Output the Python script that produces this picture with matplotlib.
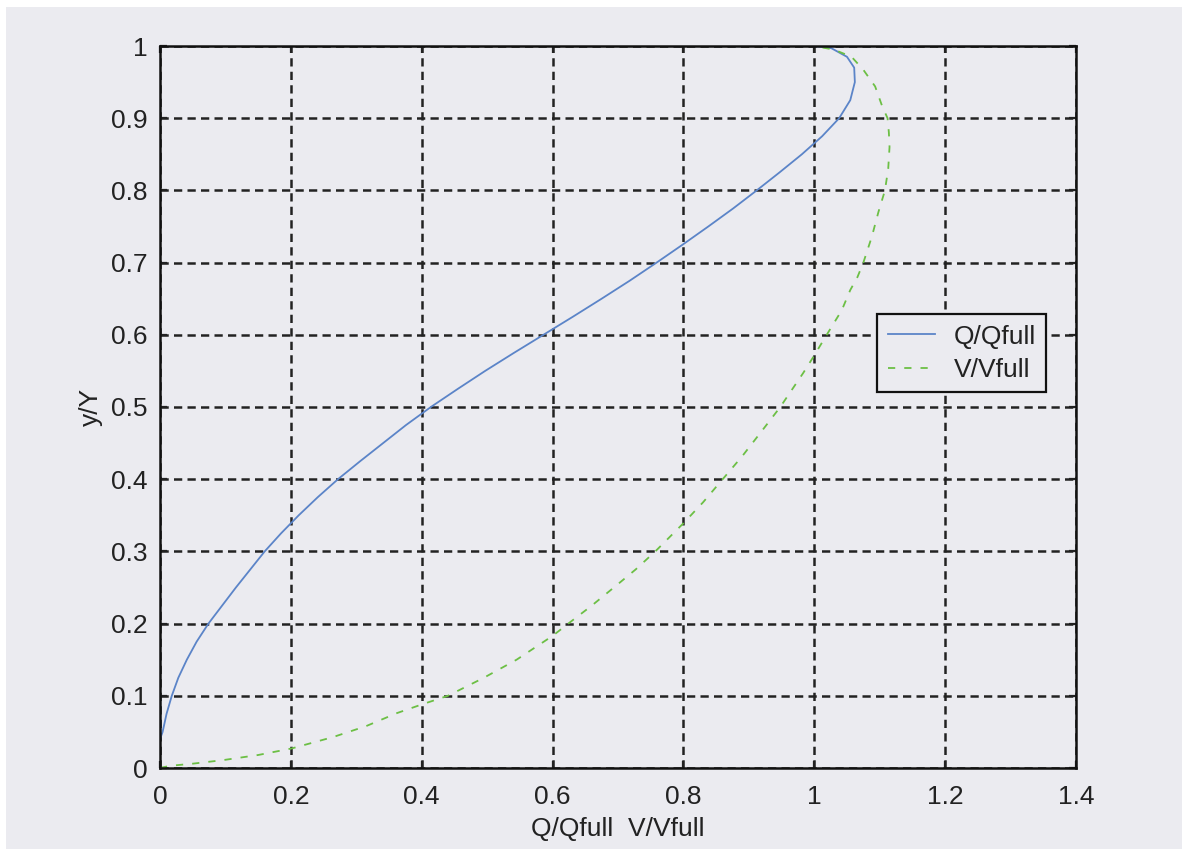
import matplotlib
matplotlib.use("Agg")
import matplotlib.pyplot as plt
from matplotlib.patches import Rectangle

# Q/Qfull curve (x) against y/Y (y)
q_y = [0.0, 0.040, 0.050, 0.075, 0.100, 0.125, 0.150, 0.175, 0.200, 0.225, 0.250,
       0.275, 0.300, 0.325, 0.350, 0.375, 0.400, 0.425, 0.450, 0.475, 0.500,
       0.525, 0.550, 0.575, 0.600, 0.625, 0.650, 0.675, 0.700, 0.725, 0.750,
       0.775, 0.800, 0.825, 0.850, 0.875, 0.900, 0.925, 0.950, 0.970, 0.985,
       0.997, 1.000]
q_x = [0.0, 0.0, 0.004, 0.010, 0.018, 0.028, 0.041, 0.056, 0.074, 0.095, 0.116,
       0.138, 0.160, 0.185, 0.212, 0.241, 0.272, 0.306, 0.341, 0.376, 0.414,
       0.455, 0.497, 0.541, 0.586, 0.631, 0.675, 0.718, 0.759, 0.799, 0.838,
       0.876, 0.912, 0.947, 0.981, 1.012, 1.038, 1.055, 1.062, 1.061, 1.050,
       1.026, 1.000]

# V/Vfull curve
v_x = [0.0, 0.015, 0.050, 0.097, 0.150, 0.201, 0.265, 0.315, 0.362, 0.400, 0.440,
       0.495, 0.545, 0.600, 0.624, 0.660, 0.695, 0.727, 0.757, 0.800, 0.830,
       0.860, 0.890, 0.920, 0.948, 0.983, 0.999, 1.019, 1.042, 1.055, 1.066,
       1.075, 1.088, 1.098, 1.108, 1.113, 1.115, 1.114, 1.112, 1.104, 1.093,
       1.075, 1.057, 1.030, 1.000]
v_y = [0.0, 0.003, 0.006, 0.011, 0.018, 0.027, 0.043, 0.058, 0.076, 0.088, 0.100,
       0.125, 0.150, 0.183, 0.200, 0.225, 0.251, 0.275, 0.300, 0.339, 0.368,
       0.400, 0.432, 0.467, 0.500, 0.547, 0.570, 0.600, 0.634, 0.662, 0.680,
       0.700, 0.736, 0.770, 0.800, 0.830, 0.860, 0.880, 0.900, 0.916, 0.944,
       0.967, 0.985, 0.995, 1.000]

x_ticks = [0, 0.2, 0.4, 0.6, 0.8, 1, 1.2, 1.4]
x_labels = ["0", "0.2", "0.4", "0.6", "0.8", "1", "1.2", "1.4"]
y_ticks = [0, 0.1, 0.2, 0.3, 0.4, 0.5, 0.6, 0.7, 0.8, 0.9, 1]
y_labels = ["0", "0.1", "0.2", "0.3", "0.4", "0.5", "0.6", "0.7", "0.8", "0.9", "1"]

BG = "#EBEBF0"
TXT = "#222222"
plt.rcParams["font.family"] = ["Liberation Sans", "DejaVu Sans"]

fig = plt.figure(figsize=(11.82, 8.49), dpi=100, facecolor=BG, edgecolor=BG)
# thin white strips at the top and left edge
fig.patches.append(Rectangle((0, 1 - 7 / 849), 1, 7 / 849, transform=fig.transFigure,
                             facecolor="white", edgecolor="none", zorder=-1))
fig.patches.append(Rectangle((0, 0), 6 / 1182, 1, transform=fig.transFigure,
                             facecolor="white", edgecolor="none", zorder=-1))

ax = fig.add_axes([160 / 1182, 1 - 768 / 849, 916 / 1182, 722 / 849])
ax.set_facecolor(BG)

ax.plot(q_x, q_y, color="#5B84C8", lw=1.3, label="Q/Qfull")
ax.plot(v_x, v_y, color="#6CBF45", lw=1.3, linestyle=(0, (4, 5)), label="V/Vfull")

ax.set_xlim(0, 1.4)
ax.set_ylim(0, 1)
ax.set_xticks(x_ticks)
ax.set_xticklabels(x_labels)
ax.set_yticks(y_ticks)
ax.set_yticklabels(y_labels)

ax.grid(True, color="#222222", linestyle=(0, (3.3, 2.1)), linewidth=1.8)
ax.tick_params(direction="in", length=5, width=1.6, top=True, right=True,
               labelsize=19, colors=TXT)
ax.tick_params(axis="x", pad=12)
ax.tick_params(axis="y", pad=9)
for s in ax.spines.values():
    s.set_linewidth(1.8)
    s.set_color("#111111")

ax.set_xlabel("Q/Qfull  V/Vfull", fontsize=19, color=TXT, labelpad=6)
ax.set_ylabel("y/Y", fontsize=19, color=TXT, labelpad=6)

leg = ax.legend(loc="upper left", bbox_to_anchor=(717 / 916, 454 / 722), fontsize=19,
                fancybox=False, framealpha=1, facecolor=BG, edgecolor="#111111",
                handlelength=1.8, handletextpad=0.7, borderpad=0.4,
                labelspacing=0.35, borderaxespad=0)
leg.get_frame().set_linewidth(1.6)
for t in leg.get_texts():
    t.set_color(TXT)

fig.savefig("out.png", dpi=100, facecolor=BG, edgecolor=BG)
